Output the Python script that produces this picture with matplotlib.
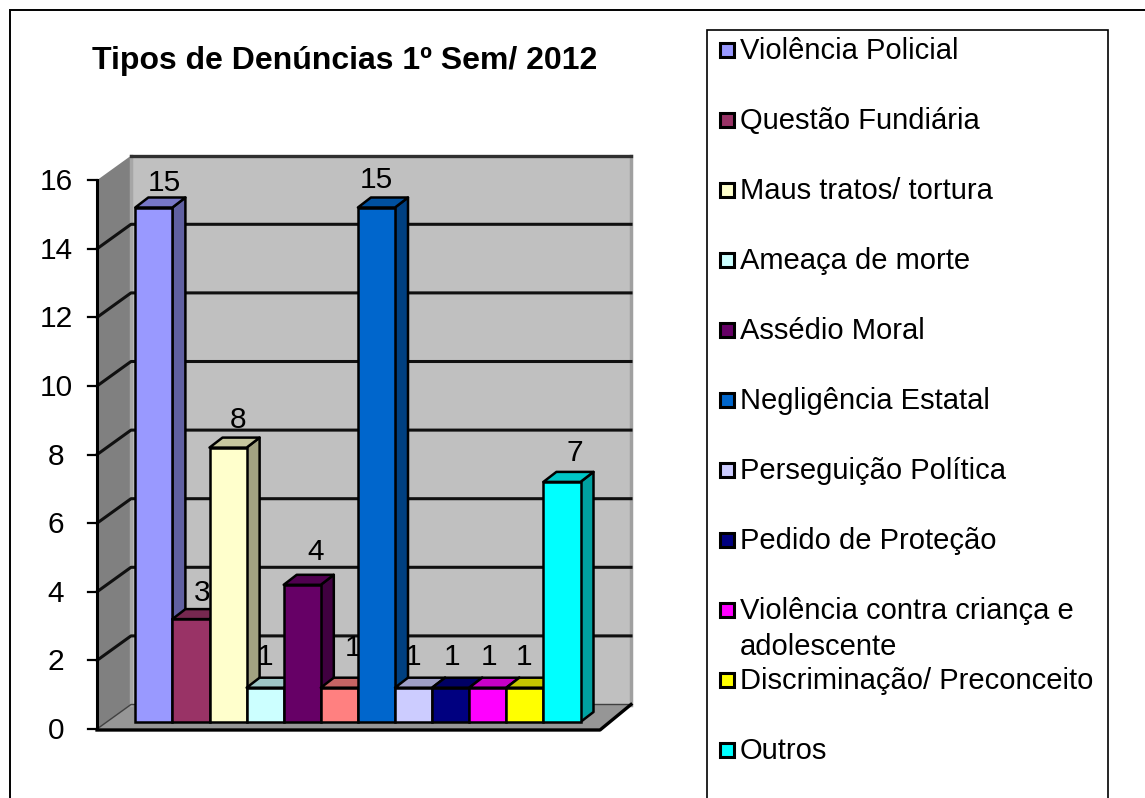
import matplotlib
matplotlib.use("Agg")
import matplotlib.pyplot as plt
from matplotlib.colors import to_rgb
from matplotlib.patches import Polygon, Rectangle

plt.rcParams["font.family"] = ["Liberation Sans", "DejaVu Sans"]

titulo = "Tipos de Denúncias 1º Sem/ 2012"
valores = [15, 3, 8, 1, 4, 1, 15, 1, 1, 1, 1, 7]
cores = ["#9999FF", "#993366", "#FFFFCC", "#CCFFFF", "#660066", "#FF8080",
         "#0066CC", "#CCCCFF", "#000080", "#FF00FF", "#FFFF00", "#00FFFF"]
legenda = ["Violência Policial", "Questão Fundiária", "Maus tratos/ tortura",
           "Ameaça de morte", "Assédio Moral", "Negligência Estatal",
           "Perseguição Política", "Pedido de Proteção",
           "Violência contra criança e\nadolescente",
           "Discriminação/ Preconceito", "Outros"]
legenda_cores = ["#9999FF", "#993366", "#FFFFCC", "#CCFFFF", "#660066", "#0066CC",
                 "#CCCCFF", "#000080", "#FF00FF", "#FFFF00", "#00FFFF"]
ticks_y = [0, 2, 4, 6, 8, 10, 12, 14, 16]

# deslocamento de cada rotulo em relacao ao topo da barra (px)
rotulo_dx = [11, 11, 10, 0, 13, 14, 0, 0, 1, 1, -1, 13]
rotulo_dy = [25, 26, 28, 31, 33, 40, 28, 31, 31, 31, 31, 29]

W, H = 1145, 798
PX_X = 37.1   # largura de uma barra
PX_Y = 34.3   # altura de uma unidade
X0 = 135.3    # borda esquerda da primeira barra
Y0 = 729      # valor zero no plano da frente


def dx(px):
    return px / PX_X


def dy(px):
    return px / PX_Y


def escurece(cor, f):
    return tuple(c * f for c in to_rgb(cor))


fig = plt.figure(figsize=(W / 100, H / 100), dpi=100)
ax = fig.add_axes([0, 0, 1, 1])
ax.set_xlim(-0.5 - X0 / PX_X, (W - X0) / PX_X - 0.5)
ax.set_ylim((Y0 - H) / PX_Y, Y0 / PX_Y)
ax.axis("off")

# molduras
px_fig = fig.transFigure
fig.add_artist(Rectangle((10 / W, -0.02), (W + 5) / W, 1.02 - 10 / H, transform=px_fig,
                         fill=False, ec="black", lw=1.4))
fig.add_artist(Rectangle((707 / W, -0.02), 401 / W, 1.02 - 30 / H, transform=px_fig,
                         fill=False, ec="black", lw=1.2))

# paredes e chao
esq = -0.5 + (97 - X0) / PX_X
dir_ = -0.5 + (600 - X0) / PX_X
wx, wy = dx(34), dy(24.5)
wx_dir = dx(31)
topo = ticks_y[-1]
ax.add_patch(Polygon([(esq + wx, wy), (dir_ + wx_dir, wy), (dir_ + wx_dir, topo + wy), (esq + wx, topo + wy)],
                     fc="#C0C0C0", ec="none", zorder=1))
ax.add_patch(Polygon([(esq, 0), (esq + wx, wy), (esq + wx, topo + wy), (esq, topo)],
                     fc="#808080", ec="none", zorder=1))
ax.add_patch(Polygon([(esq, 0), (dir_, 0), (dir_ + wx_dir, wy), (esq + wx, wy)],
                     fc="#969696", ec="none", zorder=1))
ax.plot([esq + wx, esq + wx], [wy, topo + wy], color="#A6A6A6", lw=2.5, zorder=1.5)
ax.plot([dir_ + wx_dir, dir_ + wx_dir], [wy, topo + wy], color="#A0A0A0", lw=2.5, zorder=1.5)

# grade
for t in ticks_y:
    if t == ticks_y[-1]:
        ax.plot([esq + wx, dir_ + wx_dir], [t + wy, t + wy], color="#303030", lw=2.4, zorder=2)
    elif t == 0:
        ax.plot([esq, esq + wx, dir_ + wx_dir], [t, t + wy, t + wy], color="#404040", lw=1.0, zorder=2)
    else:
        ax.plot([esq, esq + wx, dir_ + wx_dir], [t, t + wy, t + wy], color="#101010", lw=2.2, zorder=2)
    ax.plot([esq - dx(9), esq], [t, t], color="black", lw=1.6, zorder=3)
    ax.text(esq - dx(41), t - dy(2), str(t), ha="center", va="center", fontsize=21.5, color="black", zorder=3)

# eixos
ax.plot([esq, esq], [0, topo], color="black", lw=2.2, zorder=3)
ax.plot([esq, dir_, dir_ + wx_dir], [dy(-1), dy(-1), wy], color="black", lw=2.4, zorder=3)

# barras, da esquerda para a direita para uma cobrir a outra
base = dy(7)
px_, py_ = dx(13), dy(10)
for i, (v, cor) in enumerate(zip(valores, cores)):
    z = 4 + i
    l, r = i - 0.5, i + 0.5
    t = base + v
    ax.add_patch(Polygon([(r, base), (r + px_, base + py_), (r + px_, t + py_), (r, t)],
                         fc=escurece(cor, 0.63), ec="black", lw=1.8, zorder=z, joinstyle="round"))
    ax.add_patch(Polygon([(l, t), (r, t), (r + px_, t + py_), (l + px_, t + py_)],
                         fc=escurece(cor, 0.78), ec="black", lw=1.8, zorder=z, joinstyle="round"))
    ax.bar(i, v, width=1, bottom=base, color=cor, edgecolor="black", linewidth=1.8, zorder=z + 0.1)
    ax.text(i + dx(rotulo_dx[i]), t + dy(rotulo_dy[i]), str(v), ha="center", va="center",
            fontsize=21.5, color="black", zorder=z + 0.2)

ax.text(92 / W, 1 - 61 / H, titulo, transform=ax.transAxes, ha="left", va="center",
        fontsize=23, fontweight="bold", color="black")

# legenda
for i, (nome, cor) in enumerate(zip(legenda, legenda_cores)):
    y = 50 + 70 * i
    fig.add_artist(Rectangle((720 / W, 1 - (y + 7) / H), 14 / W, 14 / H, transform=px_fig,
                             fc=cor, ec="black", lw=2.2))
    fig.text(740 / W, 1 - (y - 13) / H, nome, ha="left", va="top", fontsize=21, color="black",
             linespacing=1.36)

fig.savefig("out.png", dpi=100)
